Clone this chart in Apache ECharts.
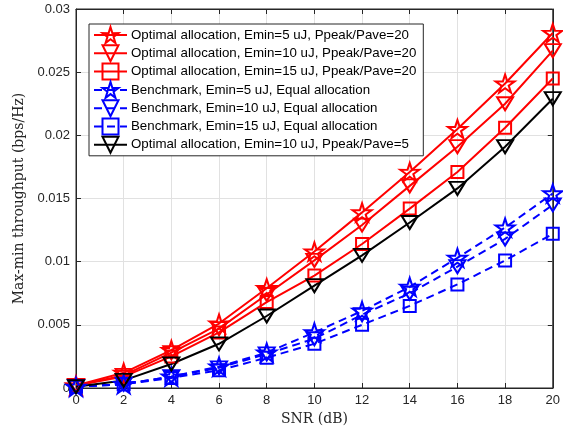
<!DOCTYPE html>
<html>
<head>
<meta charset="utf-8">
<script src="https://cdn.jsdelivr.net/npm/echarts@6/dist/echarts.min.js"></script>
<style>
    html, body { margin: 0; padding: 0; background: #fff; }
    #chart { width: 563px; height: 431px; }
</style>
</head>
<body>
<div id="chart"></div>
<script>
// SNR (dB)
const snr = [0, 2, 4, 6, 8, 10, 12, 14, 16, 18, 20];

const optE5 = [0.0002, 0.0012, 0.0030, 0.0051, 0.0079, 0.0108, 0.0139, 0.0171, 0.0205, 0.0241, 0.0281];
const optE10 = [0.0002, 0.0010, 0.0028, 0.0047, 0.0074, 0.0101, 0.0129, 0.0160, 0.0191, 0.0225, 0.0267];
const optE15 = [0.0002, 0.0009, 0.0025, 0.0044, 0.0068, 0.0089, 0.0114, 0.0142, 0.0171, 0.0206, 0.0245];
const benchE5 = [0.0001, 0.0003, 0.0009, 0.0017, 0.0028, 0.0044, 0.0061, 0.0080, 0.0103, 0.0127, 0.0154];
const benchE10 = [0.0001, 0.0003, 0.0009, 0.0016, 0.0027, 0.0039, 0.0058, 0.0075, 0.0096, 0.0118, 0.0145];
const benchE15 = [0.0001, 0.0003, 0.0008, 0.0014, 0.0024, 0.0035, 0.0050, 0.0065, 0.0082, 0.0101, 0.0122];
const optE10P5 = [0.0001, 0.0006, 0.0019, 0.0035, 0.0057, 0.0081, 0.0105, 0.0131, 0.0158, 0.0191, 0.0229];

const names = [
    'Optimal allocation, Emin=5 uJ, Ppeak/Pave=20',
    'Optimal allocation, Emin=10 uJ, Ppeak/Pave=20',
    'Optimal allocation, Emin=15 uJ, Ppeak/Pave=20',
    'Benchmark, Emin=5 uJ, Equal allocation',
    'Benchmark, Emin=10 uJ, Equal allocation',
    'Benchmark, Emin=15 uJ, Equal allocation',
    'Optimal allocation, Emin=10 uJ, Ppeak/Pave=5'
];

const STAR = 'path://M50 0 L61.17 34.63 L97.55 34.55 L68.07 55.87 L79.39 90.45 L50 69 L20.61 90.45 L31.93 55.87 L2.45 34.55 L38.83 34.63 Z';
const TRI = 'path://M0 0 L100 0 L50 87 Z';
const SQ = 'path://M0 0 L100 0 L100 100 L0 100 Z';

function mk(name, data, color, symbol, size, dashed) {
    return {
        name: name,
        type: 'line',
        data: snr.map((x, i) => [x, data[i]]),
        symbol: symbol,
        symbolSize: size,
        showAllSymbol: true,
        lineStyle: { color: color, width: 2, type: dashed ? [8, 5] : 'solid' },
        itemStyle: { color: 'rgba(0,0,0,0)', borderColor: color, borderWidth: 2 },
        emphasis: { disabled: true },
        animation: false
    };
}

const series = [
    mk(names[0], optE5, '#ff0000', STAR, [19, 18], false),
    mk(names[1], optE10, '#ff0000', TRI, [16, 13], false),
    mk(names[2], optE15, '#ff0000', SQ, [12, 12], false),
    mk(names[3], benchE5, '#0000ff', STAR, [19, 18], true),
    mk(names[4], benchE10, '#0000ff', TRI, [16, 13], true),
    mk(names[5], benchE15, '#0000ff', SQ, [12, 12], true),
    mk(names[6], optE10P5, '#000000', TRI, [16, 13], false)
];

const axisCol = '#262626';
const gridCol = '#e1e1e1';
const tickFont = { color: axisCol, fontSize: 13, fontFamily: 'Liberation Sans, Arial, sans-serif' };

const chart = echarts.init(document.getElementById('chart'));
chart.setOption({
    animation: false,
    backgroundColor: '#fff',
    grid: { left: 76, right: 8, top: 9, bottom: 43, show: true, borderColor: axisCol, borderWidth: 1 },
    legend: {
        orient: 'vertical',
        left: 89,
        top: 24,
        padding: [2, 7, 2, 4],
        itemGap: 0.3,
        itemWidth: 33,
        itemHeight: 20,
        backgroundColor: '#fff',
        borderColor: axisCol,
        borderWidth: 1,
        borderRadius: 0,
        selectedMode: false,
        textStyle: { color: '#000', fontSize: 13.3, fontFamily: 'Liberation Sans, Arial, sans-serif', padding: [0, 0, 0, -1] },
        data: names
    },
    xAxis: [{
        type: 'value', min: 0, max: 20, interval: 2,
        name: 'SNR (dB)', nameLocation: 'middle', nameGap: 24,
        nameTextStyle: { color: axisCol, fontSize: 14, fontFamily: 'DejaVu Serif, Liberation Serif, serif' },
        axisLine: { show: true, onZero: false, lineStyle: { color: axisCol } },
        axisTick: { show: true, inside: true, length: 5, lineStyle: { color: axisCol } },
        axisLabel: Object.assign({ margin: 6 }, tickFont),
        splitLine: { show: true, lineStyle: { color: gridCol } }
    }, {
        type: 'value', min: 0, max: 20, interval: 2, position: 'top',
        axisLine: { show: true, onZero: false, lineStyle: { color: axisCol } },
        axisTick: { show: true, inside: true, length: 5, lineStyle: { color: axisCol } },
        axisLabel: { show: false },
        splitLine: { show: false }
    }],
    yAxis: [{
        type: 'value', min: 0, max: 0.03, interval: 0.005,
        name: 'Max-min throughput (bps/Hz)', nameLocation: 'middle', nameGap: 46,
        nameTextStyle: { color: axisCol, fontSize: 14, fontFamily: 'DejaVu Serif, Liberation Serif, serif' },
        axisLine: { show: true, onZero: false, lineStyle: { color: axisCol } },
        axisTick: { show: true, inside: true, length: 5, lineStyle: { color: axisCol } },
        axisLabel: Object.assign({
            margin: 6,
            formatter: v => v === 0 ? '0' : String(+v.toFixed(3))
        }, tickFont),
        splitLine: { show: true, lineStyle: { color: gridCol } }
    }, {
        type: 'value', min: 0, max: 0.03, interval: 0.005, position: 'right',
        axisLine: { show: true, onZero: false, lineStyle: { color: axisCol } },
        axisTick: { show: true, inside: true, length: 5, lineStyle: { color: axisCol } },
        axisLabel: { show: false },
        splitLine: { show: false }
    }],
    series: series
});
</script>
</body>
</html>
